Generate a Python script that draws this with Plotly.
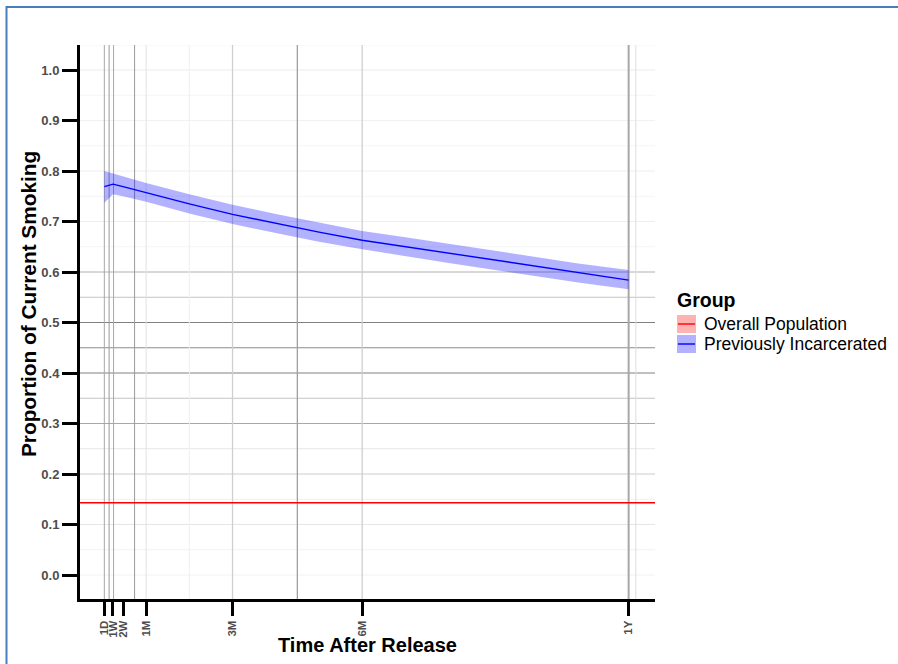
import plotly.graph_objects as go

# ---------------- data ----------------
days = [1, 7, 14, 30, 60, 90, 120, 150, 180, 210, 240, 270, 300, 330, 365]
incarcerated_mean = [0.769, 0.774, 0.769, 0.757, 0.735, 0.714, 0.696, 0.679, 0.663,
                     0.650, 0.637, 0.624, 0.611, 0.598, 0.584]
incarcerated_lower = [0.737, 0.754, 0.750, 0.739, 0.716, 0.695, 0.677, 0.660, 0.645,
                      0.631, 0.618, 0.605, 0.592, 0.579, 0.566]
incarcerated_upper = [0.800, 0.795, 0.789, 0.776, 0.754, 0.733, 0.715, 0.698, 0.681,
                      0.669, 0.656, 0.643, 0.630, 0.617, 0.604]
overall_population = 0.143

x_tick_days = [1, 7, 14, 30, 90, 180, 365]
x_tick_labels = ["1D", "1W", "2W", "1M", "3M", "6M", "1Y"]
y_tick_vals = [0.0, 0.1, 0.2, 0.3, 0.4, 0.5, 0.6, 0.7, 0.8, 0.9, 1.0]
y_tick_labels = ["0.0", "0.1", "0.2", "0.3", "0.4", "0.5", "0.6", "0.7", "0.8", "0.9", "1.0"]

group_names = ["Overall Population", "Previously Incarcerated"]

# gridline positions (data units) and their grey tones (layered panels)
h_grid_vals = [1.05, 1.0, 0.95, 0.9, 0.85, 0.8, 0.75, 0.7, 0.65, 0.6, 0.55, 0.5, 0.45,
               0.4, 0.35, 0.3, 0.25, 0.2, 0.15, 0.1, 0.05, 0.0]
h_grid_cols = ["#ececec", "#ececec", "#f5f5f5", "#f1f1f1", "#f5f5f5", "#eeeeee", "#f5f5f5",
               "#eeeeee", "#f5f5f5", "#b0b0b0", "#c4c4c4", "#808080", "#8c8c8c", "#808080",
               "#c4c4c4", "#a8a8a8", "#e6e6e6", "#cccccc", "#f0f0f0", "#e6e6e6", "#f2f2f2",
               "#f2f2f2"]
v_grid_vals = [1, 4.3, 7.4, 22, 30, 60, 90, 135, 180, 365, 370]
v_grid_cols = ["#a8a8a8", "#9a9a9a", "#a8a8a8", "#9a9a9a", "#e2e2e2", "#efefef", "#cfcfcf",
               "#a0a0a0", "#cfcfcf", "#a8a8a8", "#dedede"]
v_grid_w = [1, 1, 1, 1, 1, 1, 1.3, 1.3, 1.3, 2, 1]

# ---------------- geometry ----------------
W, H = 898, 664
L, R, T, B = 80, 655, 45, 599
XMIN, XMAX = -15.9, 383.3
YMIN, YMAX = -0.0475, 1.0495


def xp(px):
    return (px - L) / (R - L)


def yp(py):
    return (B - py) / (B - T)


FONT = "Liberation Sans, Arial, sans-serif"

fig = go.Figure()

# ribbon
fig.add_trace(go.Scatter(x=days, y=incarcerated_lower, mode="lines",
                         line=dict(width=0, color="rgba(0,0,255,0)"),
                         showlegend=False, hoverinfo="skip"))
fig.add_trace(go.Scatter(x=days, y=incarcerated_upper, mode="lines", fill="tonexty",
                         fillcolor="rgba(0,0,255,0.3)",
                         line=dict(width=0, color="rgba(0,0,255,0)"),
                         showlegend=False, hoverinfo="skip"))
fig.add_trace(go.Scatter(x=days, y=incarcerated_mean, mode="lines",
                         line=dict(color="#0000ff", width=1.4),
                         name=group_names[1], showlegend=False))
fig.add_trace(go.Scatter(x=[XMIN, XMAX], y=[overall_population] * 2, mode="lines",
                         line=dict(color="#ff0000", width=1.4),
                         name=group_names[0], showlegend=False))

shapes = []
for v, c in zip(h_grid_vals, h_grid_cols):
    shapes.append(dict(type="line", xref="paper", yref="y", x0=0, x1=1, y0=v, y1=v,
                       line=dict(color=c, width=1), layer="below"))
for v, c, w in zip(v_grid_vals, v_grid_cols, v_grid_w):
    shapes.append(dict(type="line", xref="x", yref="paper", x0=v, x1=v, y0=0, y1=1,
                       line=dict(color=c, width=w), layer="below"))

# document frame (blue border)
shapes.append(dict(type="path", xref="paper", yref="paper",
                   path=f"M {xp(6.5)},{yp(680)} L {xp(6.5)},{yp(7)} L {xp(905)},{yp(7)}",
                   line=dict(color="#4a7ebb", width=2)))

# manual legend
legend_fill = ["rgba(255,0,0,0.3)", "rgba(0,0,255,0.3)"]
legend_line = ["#ff0000", "#0000ff"]
legend_y = [324, 344]
annotations = []
annotations.append(dict(text="Group", xref="paper", yref="paper", x=xp(675), y=yp(300),
                        xanchor="left", yanchor="middle", showarrow=False,
                        font=dict(family=FONT, size=19.5, color="black", weight="bold")))
for name, fc, lc, cy in zip(group_names, legend_fill, legend_line, legend_y):
    shapes.append(dict(type="rect", xref="paper", yref="paper",
                       x0=xp(677), x1=xp(696), y0=yp(cy - 9), y1=yp(cy + 9),
                       fillcolor=fc, line=dict(width=0)))
    shapes.append(dict(type="line", xref="paper", yref="paper",
                       x0=xp(678), x1=xp(695), y0=yp(cy), y1=yp(cy),
                       line=dict(color=lc, width=1.4)))
    annotations.append(dict(text=name, xref="paper", yref="paper", x=xp(702), y=yp(cy),
                            xanchor="left", yanchor="middle", showarrow=False,
                            font=dict(family=FONT, size=17.5, color="black")))

# axis titles
annotations.append(dict(text="Time After Release", xref="paper", yref="paper",
                        x=xp(367), y=yp(645), xanchor="center", yanchor="middle",
                        showarrow=False,
                        font=dict(family=FONT, size=20, color="black", weight="bold")))
annotations.append(dict(text="Proportion of Current Smoking", xref="paper", yref="paper",
                        x=xp(28), y=yp(304), xanchor="center", yanchor="middle",
                        textangle=-90, showarrow=False,
                        font=dict(family=FONT, size=20.8, color="black", weight="bold")))

fig.update_layout(
    width=W, height=H, autosize=False,
    margin=dict(l=L, r=W - R, t=T, b=H - B, pad=0),
    paper_bgcolor="white", plot_bgcolor="white",
    showlegend=False,
    shapes=shapes, annotations=annotations,
    xaxis=dict(range=[XMIN, XMAX], tickmode="array", tickvals=x_tick_days,
               ticktext=x_tick_labels, tickangle=-90, ticks="outside", ticklen=14,
               tickwidth=3, tickcolor="black", showline=True, linewidth=3,
               linecolor="black", showgrid=False, zeroline=False,
               tickfont=dict(family=FONT, size=11.5, color="#4d4d4d", weight="bold")),
    yaxis=dict(range=[YMIN, YMAX], tickmode="array", tickvals=y_tick_vals,
               ticktext=y_tick_labels, ticks="outside", ticklen=15, tickwidth=3,
               tickcolor="black", showline=True, linewidth=3, linecolor="black",
               showgrid=False, zeroline=False,
               tickfont=dict(family=FONT, size=13, color="#4d4d4d", weight="bold")),
)

fig.write_html("out.html", config={"displayModeBar": False},
               post_script="document.body.style.margin='0';"
                           "document.body.style.overflow='hidden';")
